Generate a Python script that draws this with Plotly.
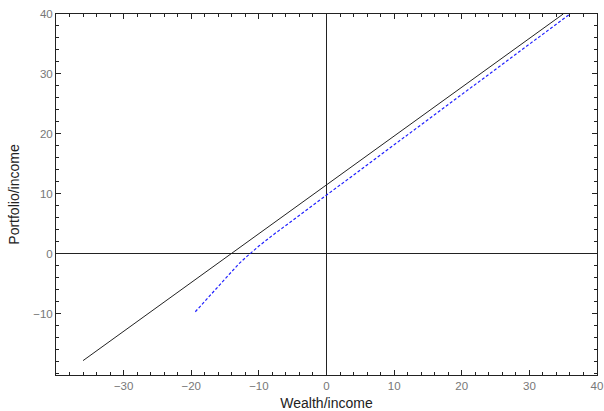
import plotly.graph_objects as go

# Wealth/income (x) against portfolio/income (y)
line_wealth = [-36.0, 35.0]
line_portfolio = [-17.8, 40.0]

dash_wealth = [-19.4, -16.0, -14.0, -13.0, -12.0, -11.0, -10.0, -8.0, 0.0, 36.0]
dash_portfolio = [-9.65, -5.4, -2.9, -1.7, -0.65, 0.35, 1.3, 3.08, 9.8, 40.0]

x_ticks = [-30, -20, -10, 0, 10, 20, 30, 40]
y_ticks = [-10, 0, 10, 20, 30, 40]

fig = go.Figure()
fig.add_trace(go.Scatter(x=line_wealth, y=line_portfolio, mode="lines",
                         line=dict(color="#222222", width=1), showlegend=False))
fig.add_trace(go.Scatter(x=dash_wealth, y=dash_portfolio, mode="lines",
                         line=dict(color="#2020ff", width=1.2, dash="3px,2px"),
                         showlegend=False))

axis_common = dict(
    showgrid=False, showline=True, linecolor="#222222", linewidth=1,
    mirror="ticks", ticks="inside", ticklen=5, tickcolor="#222222",
    zeroline=True, zerolinecolor="#222222", zerolinewidth=1,
    automargin=False,
    tickfont=dict(family="Liberation Sans, Arial", size=11.5, color="#777777"),
    minor=dict(dtick=2, ticks="inside", ticklen=3, tickcolor="#222222"),
)

fig.update_xaxes(range=[-40, 40], tickvals=x_ticks, dtick=10,
                 title=dict(text="Wealth/income", standoff=9,
                            font=dict(family="Liberation Sans, Arial", size=14, color="#222222")),
                 **axis_common)
fig.update_yaxes(range=[-20.2, 40], tickvals=y_ticks, dtick=10,
                 title=dict(text="Portfolio/income", standoff=10,
                            font=dict(family="Liberation Sans, Arial", size=14, color="#222222")),
                 **axis_common)

fig.update_layout(width=604, height=411, plot_bgcolor="white", paper_bgcolor="white",
                  margin=dict(l=56, r=7, t=14, b=36))

fig.write_html("out.html")
